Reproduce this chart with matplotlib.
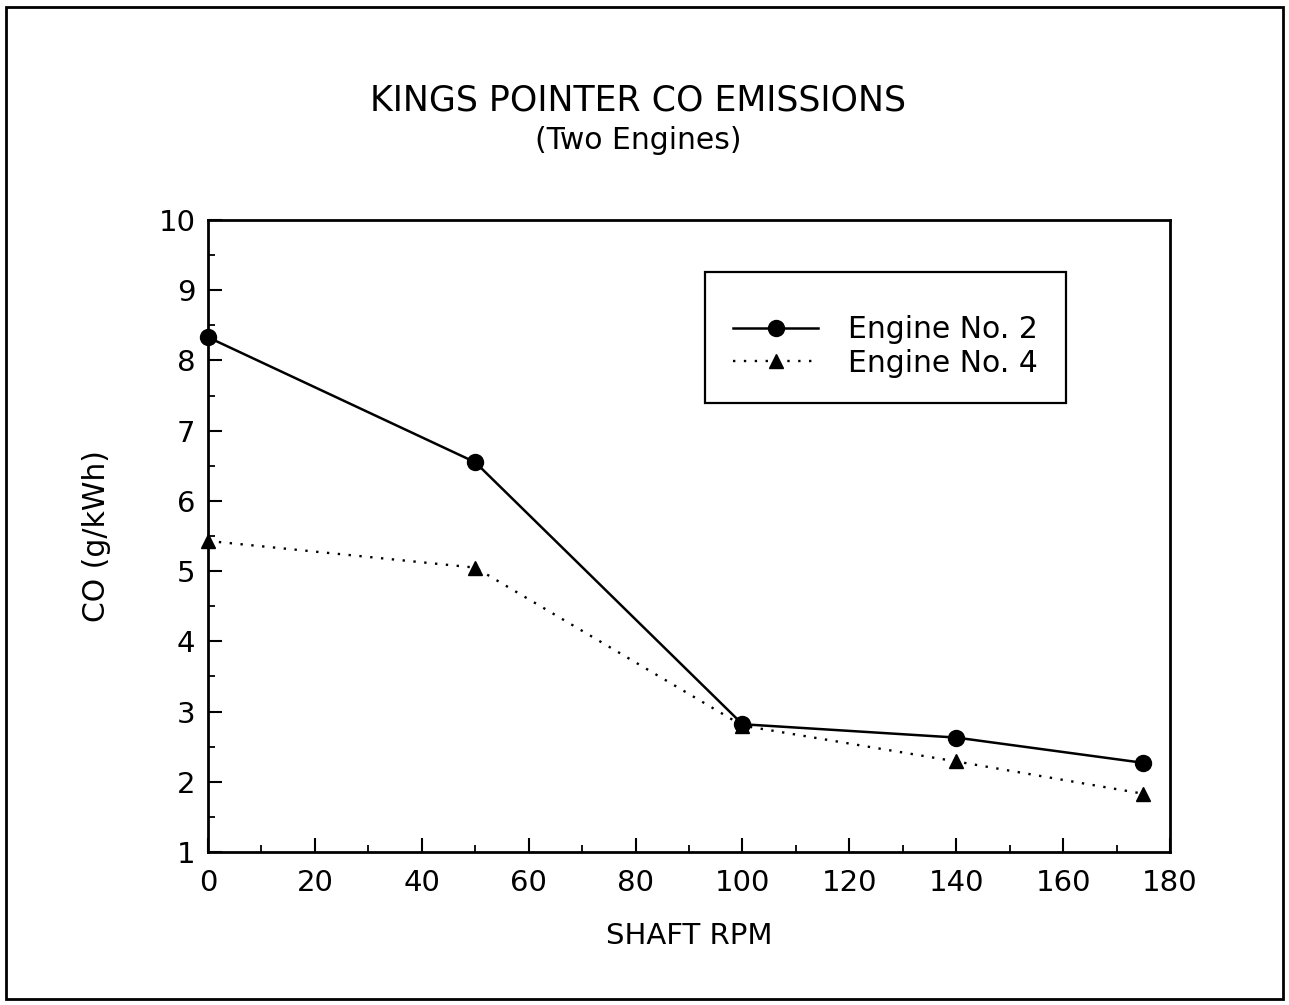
import matplotlib
matplotlib.use("Agg")
import matplotlib.pyplot as plt
from matplotlib.ticker import MultipleLocator
from matplotlib.patches import Rectangle

rpm = [0, 50, 100, 140, 175]
engine2 = [8.33, 6.55, 2.82, 2.63, 2.27]
engine4 = [5.43, 5.05, 2.80, 2.29, 1.83]

plt.rcParams['font.family'] = ['DejaVu Sans']

fig = plt.figure(figsize=(12.89, 10.05), dpi=100)
ax = fig.add_axes([0.1614, 0.1522, 0.7463, 0.6289])

ax.plot(rpm, engine2, color='black', lw=1.8, marker='o', ms=11.5,
        label='Engine No. 2', clip_on=False)
ax.plot(rpm, engine4, color='black', lw=1.7, ls=(0, (1, 3.6)), marker='^', ms=10,
        label='Engine No. 4', clip_on=False)

ax.set_xlim(0, 180)
ax.set_ylim(1, 10)
ax.xaxis.set_major_locator(MultipleLocator(20))
ax.xaxis.set_minor_locator(MultipleLocator(10))
ax.yaxis.set_major_locator(MultipleLocator(1))
ax.yaxis.set_minor_locator(MultipleLocator(0.5))
ax.tick_params(which='major', direction='in', length=10, width=1.5,
               labelsize=21)
ax.tick_params(axis='x', which='major', pad=12)
ax.tick_params(axis='y', which='major', pad=9)
ax.tick_params(which='minor', direction='in', length=5, width=1.3)
for s in ax.spines.values():
    s.set_linewidth(2)

ax.set_xlabel('SHAFT RPM', fontsize=21, labelpad=18)
ax.set_ylabel('CO (g/kWh)', fontsize=21.5, labelpad=34)

fig.text(0.495, 0.9, 'KINGS POINTER CO EMISSIONS', ha='center', va='center',
         fontsize=25)
fig.text(0.495, 0.86, '(Two Engines)', ha='center', va='center', fontsize=21.5)

# legend box drawn separately so the padding matches the original
ax.add_patch(Rectangle((0.517, 0.710), 0.375, 0.208, transform=ax.transAxes,
                       fill=False, edgecolor='black', lw=1.6, zorder=3))
leg = ax.legend(loc='center left', bbox_to_anchor=(0.5457, 0.80), fontsize=21.5,
                frameon=False, borderpad=0, handlelength=2.85, labelspacing=0.15,
                handletextpad=1.0, borderaxespad=0)

fig.patches.append(Rectangle((0.005, 0.006), 0.99, 0.987, transform=fig.transFigure,
                             fill=False, edgecolor='black', lw=2))

fig.savefig('out.png', dpi=100)
